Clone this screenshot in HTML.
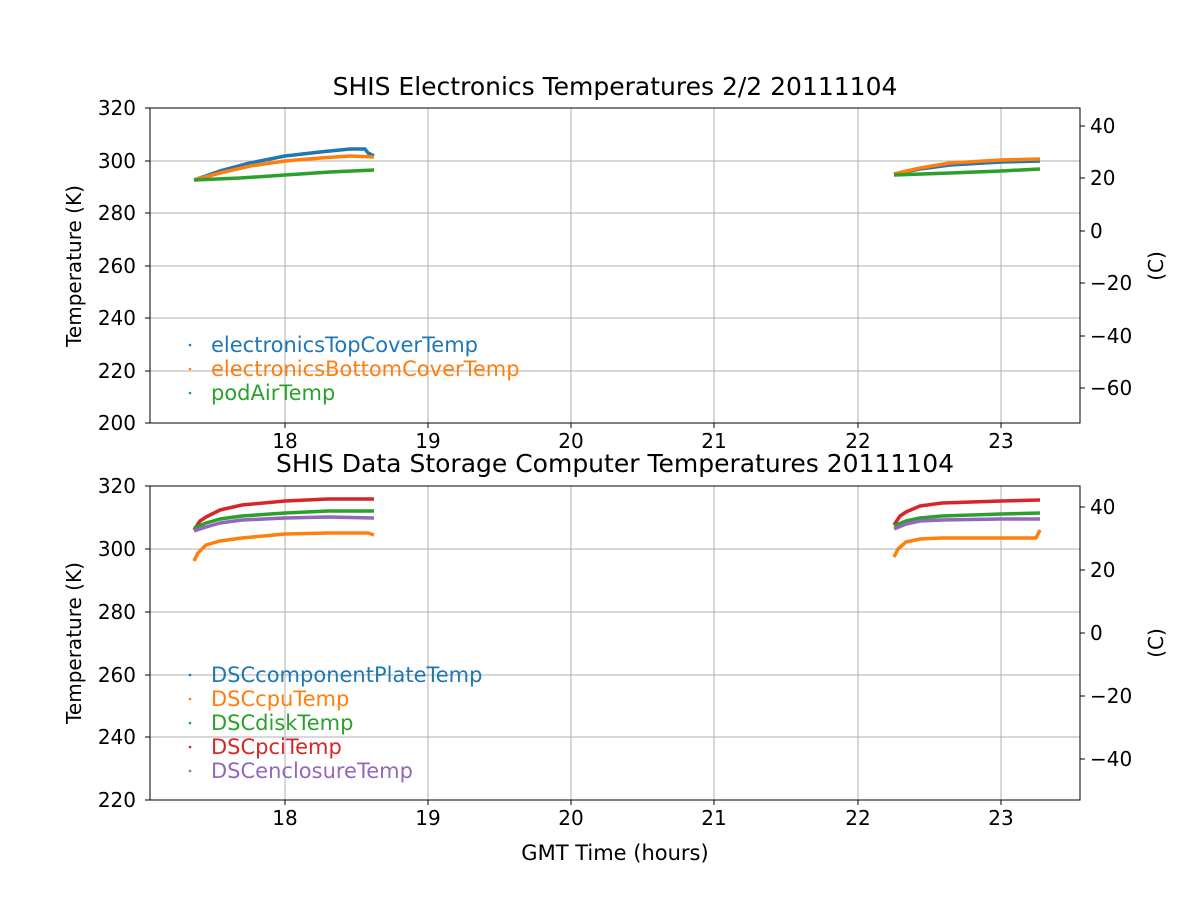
<!DOCTYPE html>
<html><head><meta charset="utf-8"><style>
body{margin:0;background:#fff}
svg text{font-family:"DejaVu Sans","Liberation Sans",sans-serif;fill:#000}
</style></head><body>
<svg width="1200" height="900" viewBox="0 0 1200 900" xmlns="http://www.w3.org/2000/svg">
<rect width="1200" height="900" fill="#fff"/>
<g stroke="#b0b0b0" stroke-width="1">
<line x1="285" y1="108" x2="285" y2="423"/><line x1="428" y1="108" x2="428" y2="423"/><line x1="571" y1="108" x2="571" y2="423"/><line x1="714" y1="108" x2="714" y2="423"/><line x1="858" y1="108" x2="858" y2="423"/><line x1="1001" y1="108" x2="1001" y2="423"/>
<line x1="150" y1="161" x2="1080" y2="161"/><line x1="150" y1="213" x2="1080" y2="213"/><line x1="150" y1="266" x2="1080" y2="266"/><line x1="150" y1="318" x2="1080" y2="318"/><line x1="150" y1="371" x2="1080" y2="371"/>
<line x1="285" y1="486" x2="285" y2="800"/><line x1="428" y1="486" x2="428" y2="800"/><line x1="571" y1="486" x2="571" y2="800"/><line x1="714" y1="486" x2="714" y2="800"/><line x1="858" y1="486" x2="858" y2="800"/><line x1="1001" y1="486" x2="1001" y2="800"/>
<line x1="150" y1="549" x2="1080" y2="549"/><line x1="150" y1="612" x2="1080" y2="612"/><line x1="150" y1="675" x2="1080" y2="675"/><line x1="150" y1="737" x2="1080" y2="737"/>
</g>
<g fill="none" stroke-width="3.5" stroke-linejoin="round">
<polyline stroke="#1f77b4" points="194,180 220,171 250,163 285,156 320,152 350,149 365,149 368,153 374,156"/>
<polyline stroke="#1f77b4" points="894,174 920,169 950,165 1001,162 1040,161"/>
<polyline stroke="#ff7f0e" points="194,180 220,173 250,166 285,161 320,158 350,156 374,157"/>
<polyline stroke="#ff7f0e" points="894,174 920,168 950,163 1001,160 1040,159"/>
<polyline stroke="#2ca02c" points="194,180 240,178 285,175 330,172 374,170"/>
<polyline stroke="#2ca02c" points="894,175 950,173 1001,171 1040,169"/>
<polyline stroke="#d62728" points="194,530 200,521 206,517 220,510 242,505 285,501 328,499 374,499"/>
<polyline stroke="#d62728" points="894,525 900,516 906,512 920,506 942,503 1001,501 1040,500"/>
<polyline stroke="#2ca02c" points="194,528 206,523 220,519 242,516 285,513 328,511 374,511"/>
<polyline stroke="#2ca02c" points="894,526 906,521 920,518 942,516 1001,514 1040,513"/>
<polyline stroke="#9467bd" points="194,531 206,527 220,523 242,520 285,518 328,517 374,518"/>
<polyline stroke="#9467bd" points="894,529 906,524 920,521 942,520 1001,519 1040,519"/>
<polyline stroke="#ff7f0e" points="194,561 198,553 206,545 220,541 242,538 285,534 328,533 368,533 374,535"/>
<polyline stroke="#ff7f0e" points="894,557 898,549 906,542 920,539 942,538 1001,538 1036,538 1040,530"/>
</g>
<rect x="150" y="108" width="930" height="315" fill="none" stroke="#000" stroke-width="1"/>
<rect x="150" y="486" width="930" height="314" fill="none" stroke="#000" stroke-width="1"/>
<g stroke="#000">
<line x1="150" y1="108" x2="145" y2="108"/><line x1="150" y1="161" x2="145" y2="161"/><line x1="150" y1="213" x2="145" y2="213"/><line x1="150" y1="266" x2="145" y2="266"/><line x1="150" y1="318" x2="145" y2="318"/><line x1="150" y1="371" x2="145" y2="371"/><line x1="150" y1="423" x2="145" y2="423"/>
<line x1="1080" y1="126" x2="1085" y2="126"/><line x1="1080" y1="178" x2="1085" y2="178"/><line x1="1080" y1="231" x2="1085" y2="231"/><line x1="1080" y1="283" x2="1085" y2="283"/><line x1="1080" y1="336" x2="1085" y2="336"/><line x1="1080" y1="388" x2="1085" y2="388"/>
<line x1="285" y1="423" x2="285" y2="428"/><line x1="428" y1="423" x2="428" y2="428"/><line x1="571" y1="423" x2="571" y2="428"/><line x1="714" y1="423" x2="714" y2="428"/><line x1="858" y1="423" x2="858" y2="428"/><line x1="1001" y1="423" x2="1001" y2="428"/>
<line x1="150" y1="486" x2="145" y2="486"/><line x1="150" y1="549" x2="145" y2="549"/><line x1="150" y1="612" x2="145" y2="612"/><line x1="150" y1="675" x2="145" y2="675"/><line x1="150" y1="737" x2="145" y2="737"/><line x1="150" y1="800" x2="145" y2="800"/>
<line x1="1080" y1="507" x2="1085" y2="507"/><line x1="1080" y1="570" x2="1085" y2="570"/><line x1="1080" y1="633" x2="1085" y2="633"/><line x1="1080" y1="696" x2="1085" y2="696"/><line x1="1080" y1="759" x2="1085" y2="759"/>
<line x1="285" y1="800" x2="285" y2="805"/><line x1="428" y1="800" x2="428" y2="805"/><line x1="571" y1="800" x2="571" y2="805"/><line x1="714" y1="800" x2="714" y2="805"/><line x1="858" y1="800" x2="858" y2="805"/><line x1="1001" y1="800" x2="1001" y2="805"/>
</g>
<g font-size="20" text-anchor="end">
<text x="136" y="115">320</text><text x="136" y="168">300</text><text x="136" y="220">280</text><text x="136" y="273">260</text><text x="136" y="325">240</text><text x="136" y="378">220</text><text x="136" y="430">200</text>
<text x="136" y="493">320</text><text x="136" y="556">300</text><text x="136" y="619">280</text><text x="136" y="682">260</text><text x="136" y="744">240</text><text x="136" y="807">220</text>
</g>
<g font-size="20">
<text x="1090" y="133">40</text><text x="1090" y="185">20</text><text x="1090" y="238">0</text><text x="1090" y="290">−20</text><text x="1090" y="343">−40</text><text x="1090" y="395">−60</text>
<text x="1090" y="514">40</text><text x="1090" y="577">20</text><text x="1090" y="640">0</text><text x="1090" y="703">−20</text><text x="1090" y="766">−40</text>
</g>
<g font-size="20" text-anchor="middle">
<text x="285" y="448">18</text><text x="428" y="448">19</text><text x="571" y="448">20</text><text x="714" y="448">21</text><text x="858" y="448">22</text><text x="1001" y="448">23</text>
<text x="285" y="825">18</text><text x="428" y="825">19</text><text x="571" y="825">20</text><text x="714" y="825">21</text><text x="858" y="825">22</text><text x="1001" y="825">23</text>
<text x="615" y="860" font-size="21">GMT Time (hours)</text>
<text x="615" y="95" font-size="25">SHIS Electronics Temperatures 2/2 20111104</text>
<text x="615" y="472" font-size="25">SHIS Data Storage Computer Temperatures 20111104</text>
<text transform="translate(81,266) rotate(-90)">Temperature (K)</text>
<text transform="translate(81,643) rotate(-90)">Temperature (K)</text>
<text transform="translate(1163,266) rotate(-90)">(C)</text>
<text transform="translate(1163,643) rotate(-90)">(C)</text>
</g>
<g font-size="21">
<circle cx="190" cy="345" r="1.3" fill="#1f77b4"/><text x="211" y="352" style="fill:#1f77b4">electronicsTopCoverTemp</text>
<circle cx="190" cy="369" r="1.3" fill="#ff7f0e"/><text x="211" y="376" style="fill:#ff7f0e">electronicsBottomCoverTemp</text>
<circle cx="190" cy="393" r="1.3" fill="#2ca02c"/><text x="211" y="400" style="fill:#2ca02c">podAirTemp</text>
<circle cx="190" cy="675" r="1.3" fill="#1f77b4"/><text x="211" y="682" style="fill:#1f77b4">DSCcomponentPlateTemp</text>
<circle cx="190" cy="699" r="1.3" fill="#ff7f0e"/><text x="211" y="706" style="fill:#ff7f0e">DSCcpuTemp</text>
<circle cx="190" cy="723" r="1.3" fill="#2ca02c"/><text x="211" y="730" style="fill:#2ca02c">DSCdiskTemp</text>
<circle cx="190" cy="747" r="1.3" fill="#d62728"/><text x="211" y="754" style="fill:#d62728">DSCpciTemp</text>
<circle cx="190" cy="771" r="1.3" fill="#9467bd"/><text x="211" y="778" style="fill:#9467bd">DSCenclosureTemp</text>
</g>
</svg>
</body></html>
